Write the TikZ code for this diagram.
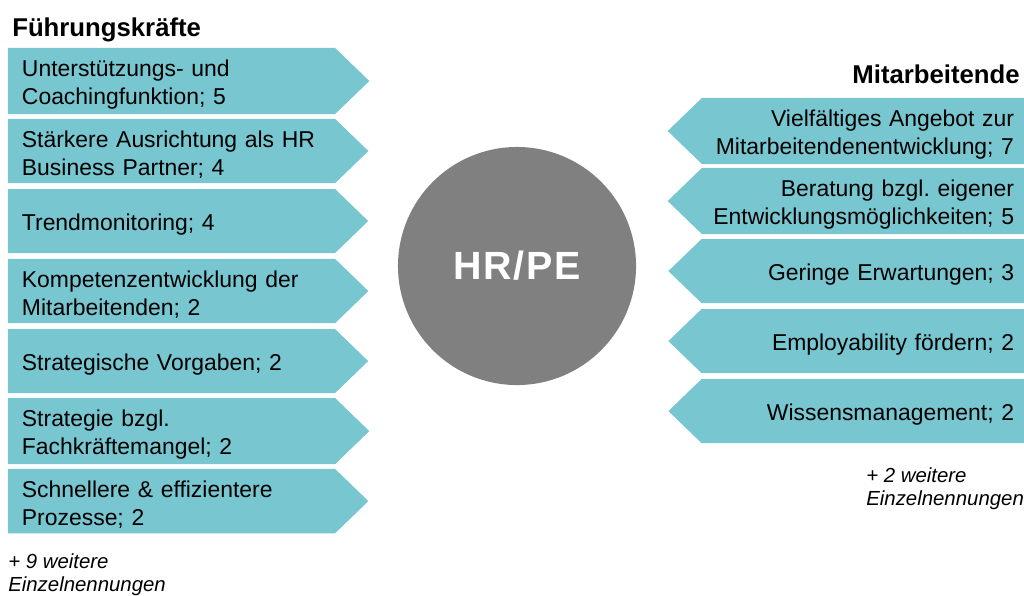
\documentclass[tikz,border=0pt]{standalone}
\usepackage{fontspec}
\setmainfont{Liberation Sans}
\usepackage{tikz}
\usetikzlibrary{shapes.symbols}
\definecolor{boxteal}{HTML}{78C6D0}
\definecolor{hubgray}{HTML}{808080}
\frenchspacing

\begin{document}
\begin{tikzpicture}
[
x=0.025cm, y=-0.025cm,
lead/.style={signal, signal to=east, signal pointer angle=88, fill=boxteal, text=black, minimum height=1.6cm, minimum width=8.9cm, text width=7.475cm, inner xsep=0.35cm, align=left, font=\fontsize{16.3}{19.9}\selectfont, execute at begin node=\rule{0pt}{1.05em}, node distance=1.75cm},
staff/.style={signal, signal to=west, signal pointer angle=88, fill=boxteal, text=black, minimum height=1.6cm, minimum width=8.9cm, text width=7.55cm, inner xsep=0.25cm, align=right, font=\fontsize{16.3}{19.9}\selectfont, execute at begin node=\rule{0pt}{1.05em}, node distance=1.75cm},
group/.style={inner sep=0pt, font=\fontsize{18.3}{22}\selectfont\bfseries},
more/.style={inner sep=0pt, align=left, font=\fontsize{14.5}{16.5}\selectfont\itshape},
hub/.style={circle, fill=hubgray, minimum size=5.95cm, text=white, font=\fontsize{28}{32}\selectfont\bfseries\addfontfeature{LetterSpace=4}}
]
\useasboundingbox (0,0) rectangle (1024,595);

%Nodes
\node[hub]          (hrpe)      at (517,266)        {HR/PE};

\node[group, anchor=base west]  (lead_head)  at (12,36)    {Führungskräfte};
\node[lead]         (support)   at (171.5,81)       {Unterstützungs- und\\Coachingfunktion; 5};
\node[lead]         (partner)   [below of=support]  {Stärkere Ausrichtung als HR\\Business Partner; 4};
\node[lead]         (trend)     [below of=partner]  {Trendmonitoring; 4};
\node[lead]         (compet)    [below of=trend]    {Kompetenzentwicklung der\\Mitarbeitenden; 2};
\node[lead]         (strat)     [below of=compet]   {Strategische Vorgaben; 2};
\node[lead]         (skilled)   [below of=strat]    {Strategie bzgl.\\Fachkräftemangel; 2};
\node[lead]         (process)   [below of=skilled]  {Schnellere \& effizientere\\Prozesse; 2};
\node[more, anchor=north west]  (lead_more)  at (8,553)    {+ 9 weitere\\Einzelnennungen};

\node[group, anchor=base east]  (staff_head) at (1020,83)  {Mitarbeitende};
\node[staff]        (offer)     at (863,131)        {Vielfältiges Angebot zur\\Mitarbeitendenentwicklung; 7};
\node[staff]        (advice)    [below of=offer]    {Beratung bzgl. eigener\\Entwicklungsmöglichkeiten; 5};
\node[staff]        (expect)    [below of=advice]   {Geringe Erwartungen; 3};
\node[staff]        (employ)    [below of=expect]   {Employability fördern; 2};
\node[staff]        (knowl)     [below of=employ]   {Wissensmanagement; 2};
\node[more, anchor=north west]  (staff_more) at (866,467)  {+ 2 weitere\\Einzelnennungen};
\end{tikzpicture}
\end{document}
